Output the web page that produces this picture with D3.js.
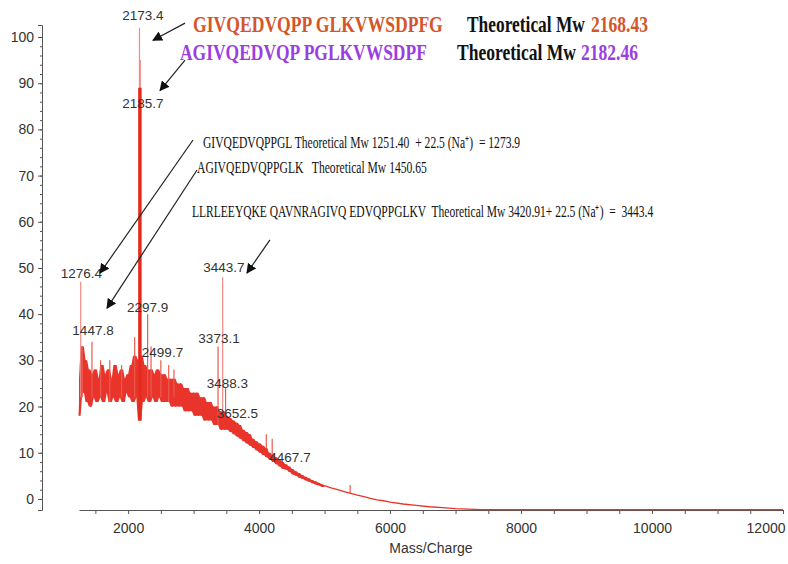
<!DOCTYPE html>
<html>
<head>
<meta charset="utf-8">
<script src="https://cdn.jsdelivr.net/npm/d3@7"></script>
<style>
  body { margin: 0; background: #fff; }
  text { white-space: pre; }
</style>
</head>
<body>
<svg id="chart" width="788" height="564"></svg>
<script>
// noisy part of the spectrum, sampled every 25 m/z starting at 1250
let noiseStart = 1250
let noiseStep = 25
let noiseVals = [
  18, 26, 33, 23, 30, 21, 28, 20, 27, 22,
  28, 21, 26, 22, 29, 21, 27, 23, 28, 21,
  26, 22, 29, 21, 27, 22, 28, 21, 26, 23,
  27, 22, 29, 21, 31, 22, 30, 17, 31, 21,
  29, 22, 28, 21, 28, 22, 27, 21, 28, 22,
  27, 21, 27, 21, 26, 21, 26, 20, 26, 20,
  25, 20, 25, 20, 24, 19, 24, 19, 23, 19,
  23, 18, 23, 18, 22, 18, 22, 17, 21, 17,
  21, 17, 20, 16, 20, 16, 19, 15, 19, 15,
  18, 15, 17.5, 14.5, 17, 14, 16.5, 13.5, 16, 13,
  15, 12.5, 14.5, 12, 14, 11.5, 13, 11, 12.5, 10.5,
  12, 10, 11.5, 9.5, 11, 9, 10, 8.5, 9.5, 8,
  9, 7.5, 8.5, 7, 8, 6.5, 7.5, 6.3, 7, 5.8,
  6.5, 5.3, 6, 5, 5.6, 4.6, 5.2, 4.3, 4.8, 4,
  4.5, 3.7, 4.1, 3.4, 3.8, 3.1, 3.5, 2.9, 3.2, 2.6,
  2.9
]
// smooth tail
let tailMz = [5000, 5100, 5200, 5300, 5400, 5500, 5600, 5700, 5800, 5900, 6000, 6200, 6400, 6600, 6800, 7000, 7200, 7400, 7600, 12000]
let tailVals = [2.9, 2.4, 2.0, 1.6, 1.2, 0.8, 0.5, 0.1, -0.2, -0.4, -0.7, -1.1, -1.4, -1.7, -1.9, -2.1, -2.2, -2.3, -2.3, -2.3]

// thin spikes
let spikeMz = [1276.4, 1300, 1447.8, 1580, 1720, 1900, 2100, 2173.4, 2185.7, 2297.9, 2350, 2499.7, 2620, 2700, 3373.1, 3443.7, 3488.3, 4110, 4200, 5390]
let spikeHeight = [47, 33, 34, 30, 30, 29, 35, 102, 95, 40, 33, 30, 29, 28, 33, 48, 24, 14, 13, 3]

// the big peak
let mainMz = [2180]
let mainTop = [89]
let mainBase = [17]

// peak labels (text anchor point in data units)
let labelText = ["2173.4", "2185.7", "1276.4", "2297.9", "1447.8", "2499.7", "3443.7", "3373.1", "3488.3", "3652.5", "4467.7"]
let labelMz = [2227, 2227, 1288, 2299, 1464, 2525, 3464, 3388, 3517, 3670, 4472]
let labelY = [103.7, 84.6, 47.8, 40.5, 35.5, 30.7, 49.1, 33.8, 24.0, 17.5, 7.9]

// arrows, from -> to, in data units
let arrowFromMz = [2869, 2869, 2991, 3052, 4166]
let arrowFromY = [103.0, 95.0, 77.7, 71.2, 56.1]
let arrowToMz = [2380, 2487, 1571, 1678, 3815]
let arrowToY = [99.3, 88.4, 48.9, 41.3, 48.9]

let yTicks = [0, 10, 20, 30, 40, 50, 60, 70, 80, 90, 100]
let xTicks = [2000, 4000, 6000, 8000, 10000, 12000]

let width = 788, height = 564
let svg = d3.select("#chart")
svg.append("rect").attr("width", width).attr("height", height).attr("fill", "#fff")

let xScale = d3.scaleLinear().domain([1250, 12000]).range([79, 783])
let yScale = d3.scaleLinear().domain([-2.4, 102.6]).range([510, 25])

let red = "#e8342a"

// axes
let yAxis = d3.axisLeft(yScale).tickValues(yTicks).tickSize(4).tickSizeOuter(4).tickPadding(4)
let yG = svg.append("g").attr("transform", "translate(42,0)").call(yAxis)
let yMinor = d3.range(0, 101, 2)
svg.append("g").attr("transform", "translate(42,0)")
  .call(d3.axisLeft(yScale).tickValues(yMinor).tickSize(2).tickFormat(""))
  .select(".domain").remove()

let xMinor = d3.range(1500, 12001, 500)
let xAxis = d3.axisBottom(xScale).tickValues(xMinor).tickSize(4).tickSizeOuter(0).tickPadding(9)
  .tickFormat(d => xTicks.includes(d) ? d : "")
let xG = svg.append("g").attr("transform", "translate(0,510)").call(xAxis)

for (let g of [yG, xG]) {
  g.selectAll("path, line").attr("stroke", "#555")
  g.selectAll("text").attr("fill", "#333").attr("font-size", 14).attr("font-family", "Liberation Sans, Arial, sans-serif")
}
svg.selectAll("g line").attr("stroke", "#555")
xG.selectAll(".tick text").filter(d => d == 12000).attr("text-anchor", "end").attr("dx", 2)

svg.append("text")
  .attr("x", 431).attr("y", 553)
  .attr("text-anchor", "middle")
  .attr("font-family", "Liberation Sans, Arial, sans-serif")
  .attr("font-size", 14).attr("fill", "#333")
  .text("Mass/Charge")

// spectrum: the noisy band as a filled area spanning each sample's neighbourhood,
// with the raw trace drawn over it
let noisePts = noiseVals.map((v, i) => {
  let near = noiseVals.slice(Math.max(0, i - 1), i + 2)
  return { mz: noiseStart + i * noiseStep, v: v, lo: d3.min(near), hi: d3.max(near) }
})
let band = d3.area()
  .x(d => xScale(d.mz))
  .y0(d => yScale(d.lo))
  .y1(d => yScale(d.hi))
svg.append("path").datum(noisePts)
  .attr("d", band)
  .attr("fill", red)

let line = d3.line().x(d => xScale(d.mz)).y(d => yScale(d.v))
svg.append("path").datum(noisePts)
  .attr("d", line)
  .attr("fill", "none")
  .attr("stroke", red)
  .attr("stroke-width", 1)

svg.append("path").datum(tailMz.map((m, i) => ({ mz: m, v: tailVals[i] })))
  .attr("d", line)
  .attr("fill", "none")
  .attr("stroke", red)
  .attr("stroke-width", 1.3)

function baseAt(mz) {
  let i = Math.round((mz - noiseStart) / noiseStep)
  if (i >= 0 && i < noiseVals.length) return noiseVals[i]
  let j = d3.minIndex(tailMz, m => Math.abs(m - mz))
  return tailVals[j]
}

svg.selectAll(".spike")
  .data(spikeMz)
  .enter().append("line")
  .attr("class", "spike")
  .attr("x1", d => xScale(d)).attr("x2", d => xScale(d))
  .attr("y1", (d, i) => yScale(spikeHeight[i]))
  .attr("y2", d => yScale(Math.min(baseAt(d), 22)))
  .attr("stroke", (d, i) => spikeHeight[i] > 45 ? "#f08a84" : "#ec5a50")
  .attr("stroke-width", 1.2)

svg.selectAll(".mainpeak")
  .data(mainMz)
  .enter().append("line")
  .attr("class", "mainpeak")
  .attr("x1", d => xScale(d)).attr("x2", d => xScale(d))
  .attr("y1", (d, i) => yScale(mainTop[i]))
  .attr("y2", (d, i) => yScale(mainBase[i]))
  .attr("stroke", "#e42a1e")
  .attr("stroke-width", 3.5)

// peak labels
svg.selectAll(".plabel")
  .data(labelText)
  .enter().append("text")
  .attr("class", "plabel")
  .attr("x", (d, i) => xScale(labelMz[i]))
  .attr("y", (d, i) => yScale(labelY[i]))
  .attr("text-anchor", "middle")
  .attr("font-family", "Liberation Sans, Arial, sans-serif")
  .attr("font-size", 13.5)
  .attr("fill", "#333")
  .text(d => d)

// arrows
let defs = svg.append("defs")
defs.append("marker")
  .attr("id", "head")
  .attr("viewBox", "0 0 10 10")
  .attr("refX", 9).attr("refY", 5)
  .attr("markerWidth", 10).attr("markerHeight", 10)
  .attr("markerUnits", "userSpaceOnUse")
  .attr("orient", "auto")
  .append("path").attr("d", "M0,0 L10,5 L0,10 Z").attr("fill", "#111")

svg.selectAll(".arrow")
  .data(arrowFromMz)
  .enter().append("line")
  .attr("class", "arrow")
  .attr("x1", d => xScale(d))
  .attr("y1", (d, i) => yScale(arrowFromY[i]))
  .attr("x2", (d, i) => xScale(arrowToMz[i]))
  .attr("y2", (d, i) => yScale(arrowToY[i]))
  .attr("stroke", "#222")
  .attr("stroke-width", 1.2)
  .attr("marker-end", "url(#head)")

// sequence annotations: squeeze each text horizontally to the width seen in the figure
let serif = "Liberation Serif, Times New Roman, serif"
function squeezeText(sel) {
  sel.each(function(d) {
    let w = this.getComputedTextLength()
    d3.select(this).attr("transform", `translate(${d.x},${d.y}) scale(${d.len / w},1)`)
  })
}
let bigNotes = [
  { t: "GIVQEDVQPP GLKVWSDPFG", x: 193, y: 32, len: 250, c: "#d4552a" },
  { t: "Theoretical Mw", x: 467, y: 32, len: 118, c: "#111" },
  { t: "2168.43", x: 591, y: 32, len: 57, c: "#d4552a" },
  { t: "AGIVQEDVQP PGLKVWSDPF", x: 180, y: 60, len: 247, c: "#9b3ee0" },
  { t: "Theoretical Mw", x: 457, y: 60, len: 119, c: "#111" },
  { t: "2182.46", x: 581, y: 60, len: 57, c: "#9b3ee0" }
]
svg.selectAll(".big")
  .data(bigNotes)
  .enter().append("text")
  .attr("class", "big")
  .attr("font-family", serif)
  .attr("font-weight", "bold")
  .attr("font-size", 23)
  .attr("fill", d => d.c)
  .text(d => d.t)
  .call(squeezeText)

let smallNotes = [
  { t: "GIVQEDVQPPGL Theoretical Mw 1251.40  + 22.5 (Na\u207A)  = 1273.9", x: 203, y: 148, len: 317 },
  { t: "AGIVQEDVQPPGLK   Theoretical Mw 1450.65", x: 197, y: 173, len: 230 },
  { t: "LLRLEEYQKE QAVNRAGIVQ EDVQPPGLKV  Theoretical Mw 3420.91+ 22.5 (Na\u207A)  =  3443.4", x: 192, y: 217, len: 461 }
]
svg.selectAll(".small")
  .data(smallNotes)
  .enter().append("text")
  .attr("class", "small")
  .attr("font-family", serif)
  .attr("font-size", 16)
  .attr("fill", "#111")
  .text(d => d.t)
  .call(squeezeText)
</script>
</body>
</html>
